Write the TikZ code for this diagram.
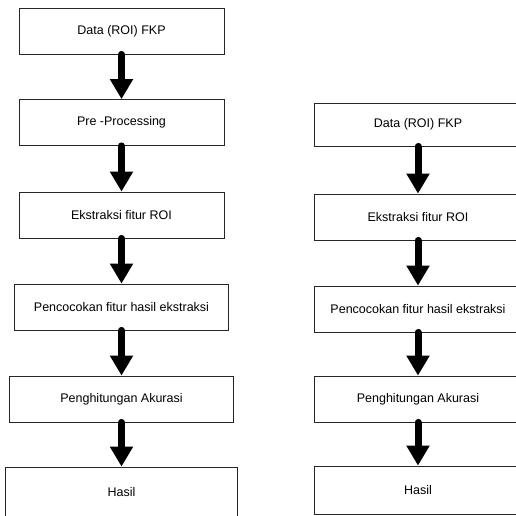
\documentclass[tikz,border=0pt]{standalone}
\usepackage{fontspec}
\setmainfont{Liberation Sans}
\usetikzlibrary{arrows.meta}

\begin{document}
\begin{tikzpicture}[x=1pt,y=-1pt,
	box/.style={draw=black!85, line width=0.8pt, fill=white, inner sep=0pt,
		minimum height=46pt, font=\fontsize{12.5}{14}\selectfont},
	panah/.style={line width=7pt, line cap=round, -{Triangle[width=22pt,length=20pt]}}]

	\useasboundingbox (0,0) rectangle (516,515);

	% alur kiri
	\node[box, minimum width=205pt] (k1) at (121.5,31) {Data (ROI) FKP};
	\node[box, minimum width=205pt] (k2) at (121.5,122.5) {Pre -Processing};
	\node[box, minimum width=205pt] (k3) at (121.5,215) {Ekstraksi fitur ROI};
	\node[box, minimum width=214pt] (k4) at (121.5,307) {Pencocokan fitur hasil ekstraksi};
	\node[box, minimum width=224pt] (k5) at (121.5,399) {Penghitungan Akurasi};
	\node[box, minimum width=232pt, minimum height=50pt] (k6) at (121.5,492) {Hasil};

	\draw[panah] (k1) -- (k2);
	\draw[panah] (k2) -- (k3);
	\draw[panah] (k3) -- (k4);
	\draw[panah] (k4) -- (k5);
	\draw[panah] (k5) -- (k6);

	% alur kanan
	\node[box, minimum width=208pt, minimum height=43pt] (r1) at (418,124.5) {Data (ROI) FKP};
	\node[box, minimum width=208pt] (r2) at (418,217) {Ekstraksi fitur ROI};
	\node[box, minimum width=208pt] (r3) at (418,309) {Pencocokan fitur hasil ekstraksi};
	\node[box, minimum width=208pt] (r4) at (418,399) {Penghitungan Akurasi};
	\node[box, minimum width=208pt, minimum height=48pt] (r5) at (418,490) {Hasil};

	\draw[panah] (r1) -- (r2);
	\draw[panah] (r2) -- (r3);
	\draw[panah] (r3) -- (r4);
	\draw[panah] (r4) -- (r5);

\end{tikzpicture}
\end{document}
